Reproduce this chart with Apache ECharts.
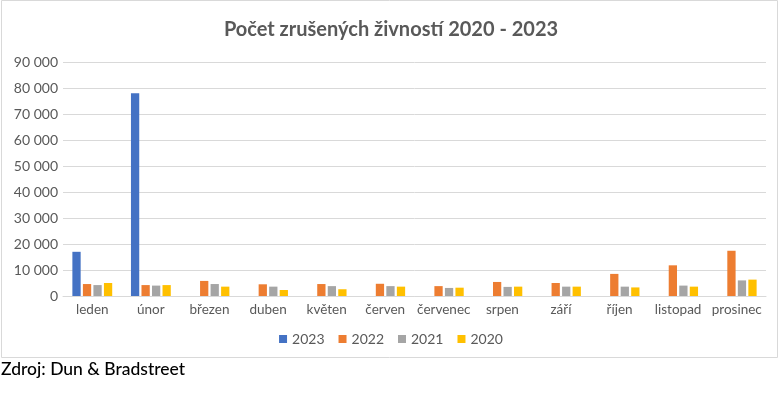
<!DOCTYPE html>
<html><head><meta charset="utf-8">
<script src="https://cdn.jsdelivr.net/npm/echarts@6/dist/echarts.min.js"></script>
<style>html,body{margin:0;padding:0;background:#fff}#c{width:782px;height:394px}</style>
</head><body><div id="c"></div>
<script>
const categories = ['leden','únor','březen','duben','květen','červen','červenec','srpen','září','říjen','listopad','prosinec'];
const s2023 = [17000, 78000, null, null, null, null, null, null, null, null, null, null];
const s2022 = [4600, 4200, 5800, 4500, 4600, 4700, 3800, 5400, 5000, 8500, 11800, 17400];
const s2021 = [4200, 4000, 4600, 3600, 3800, 3800, 3100, 3500, 3600, 3600, 4000, 6000];
const s2020 = [5000, 4200, 3600, 2300, 2600, 3600, 3200, 3600, 3600, 3300, 3600, 6300];
const seriesNames = ['2023','2022','2021','2020'];
const colors = ['#4472C4','#ED7D31','#A5A5A5','#FFC000'];
const yTicks = {min:0, max:90000, interval:10000};

const chart = echarts.init(document.getElementById('c'));
const font = 'Lato, "Open Sans", sans-serif';
const data = [s2023, s2022, s2021, s2020];
chart.setOption({
  animation:false,
  color: colors,
  title:{text:'Počet zrušených živností 2020 - 2023', left:'center', top:15,
    textStyle:{fontFamily:font, fontWeight:'bold', fontSize:20, color:'#595959'}},
  legend:{data:seriesNames, bottom:43, left:'center', itemWidth:8, itemHeight:8, itemGap:14, icon:'rect',
    textStyle:{fontFamily:font, fontSize:14, color:'#595959'}},
  grid:{left:63, right:16, top:62, bottom:98},
  xAxis:{type:'category', data:categories,
    axisLine:{show:true, lineStyle:{color:'#d9d9d9'}}, axisTick:{show:false},
    axisLabel:{fontFamily:font, fontSize:13.5, color:'#595959', margin:7, interval:0}},
  yAxis:{type:'value', min:yTicks.min, max:yTicks.max, interval:yTicks.interval,
    axisLine:{show:false}, axisTick:{show:false},
    splitLine:{lineStyle:{color:'#d9d9d9'}},
    axisLabel:{fontFamily:font, fontSize:14, color:'#595959', margin:5,
      formatter:v=>String(v).replace(/\B(?=(\d{3})+(?!\d))/g,' ')}},
  series: seriesNames.map((n,i)=>({name:n, type:'bar', data:data[i], barGap:'27%', barCategoryGap:'32%'})),
  graphic:[
    {type:'rect', shape:{x:1.5, y:0.5, width:776, height:357}, style:{fill:'none', stroke:'#d9d9d9', lineWidth:1}, silent:true, z:-1},
    {type:'text', left:1, top:360, style:{text:'Zdroj: Dun & Bradstreet', fontFamily:font, fontSize:17.5, fontWeight:'500', fill:'#000'}}
  ]
});
</script></body></html>
